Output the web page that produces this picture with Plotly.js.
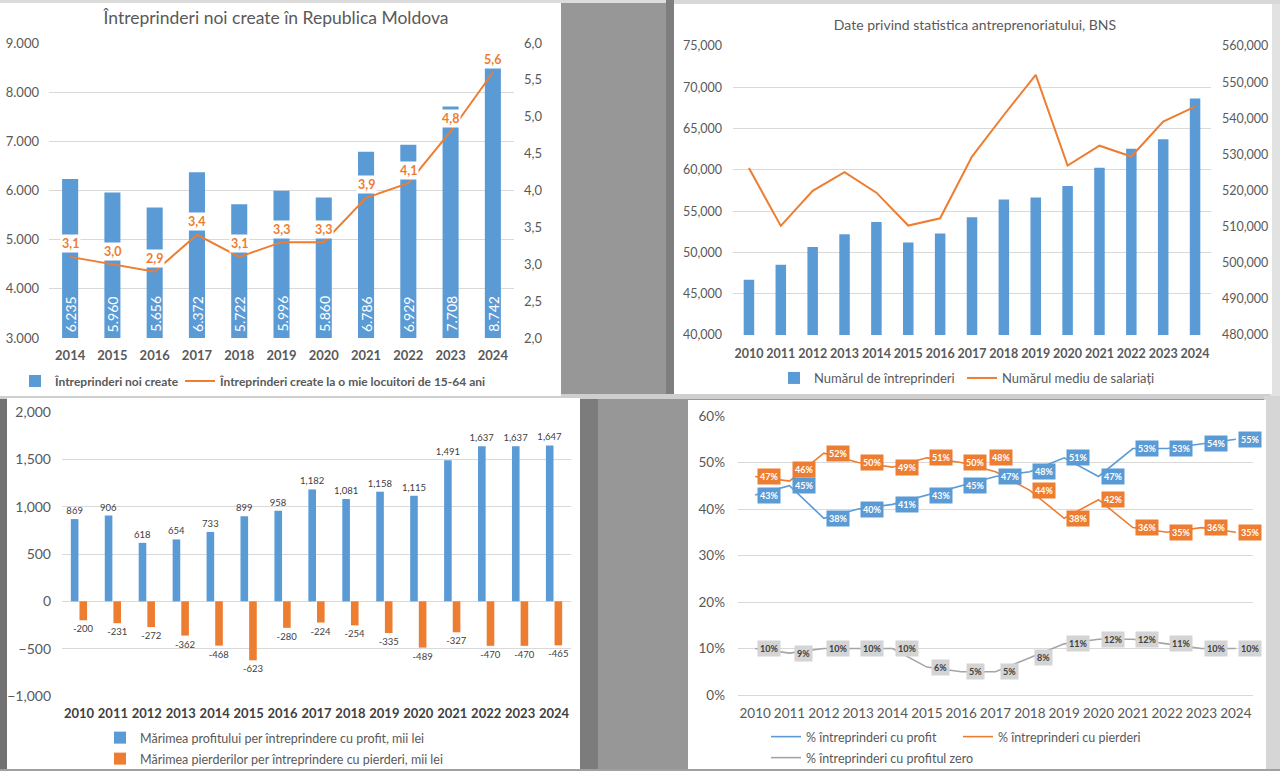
<!DOCTYPE html>
<html><head><meta charset="utf-8">
<script src="https://cdn.plot.ly/plotly-3.0.1.min.js"></script>
<style>
html,body{margin:0;padding:0;width:1280px;height:771px;overflow:hidden;background:#979797;position:relative;font-family:Lato,sans-serif;}
.panel{position:absolute;background:#fff;}
.strip{position:absolute;}
</style></head><body>
<div class="strip" style="left:666px;top:0;width:8px;height:396px;background:#7e7e7e"></div>
<div class="strip" style="left:580px;top:396px;width:18px;height:375px;background:#7c7c7c"></div>
<div class="strip" style="left:0;top:396px;width:8px;height:375px;background:#727272"></div>
<div class="strip" style="left:0;top:394px;width:1280px;height:5px;background:#cfcfcf"></div>
<div class="strip" style="left:1264px;top:396px;width:16px;height:375px;background:#d6d6d6"></div>
<div class="strip" style="left:1270px;top:0;width:10px;height:396px;background:#e2e2e2"></div>
<div id="c1" class="panel" style="left:0;top:0;width:561px;height:396px"></div>
<div id="c2" class="panel" style="left:674px;top:4px;width:598px;height:390px"></div>
<div id="c3" class="panel" style="left:7px;top:398px;width:573px;height:373px"></div>
<div id="c4" class="panel" style="left:688px;top:400px;width:578px;height:369px"></div>
<div class="strip" style="left:0;top:0;width:666px;height:3px;background:#dcdcdc"></div>
<div class="strip" style="left:674px;top:0;width:606px;height:4px;background:#d8d8d8"></div>
<div class="strip" style="left:0;top:769px;width:1280px;height:2px;background:#a0a0a0"></div>
<script>
// ---------- DATA ----------
// Chart 1: Întreprinderi noi create în Republica Moldova
const years1 = ['2014','2015','2016','2017','2018','2019','2020','2021','2022','2023','2024'];
const newFirms = [6235,5960,5656,6372,5722,5996,5860,6786,6929,7708,8742];
const firmsPerThousand = [3.1,3.0,2.9,3.4,3.1,3.3,3.3,3.9,4.1,4.8,5.6];

// Chart 2: Date privind statistica antreprenoriatului, BNS
const years2 = ['2010','2011','2012','2013','2014','2015','2016','2017','2018','2019','2020','2021','2022','2023','2024'];
const numEnterprises = [46700,48500,50650,52200,53700,51200,52300,54250,56400,56650,58050,60250,62550,63700,68650];
const avgEmployees = [526200,510200,519900,525100,519400,510300,512300,529400,540900,552000,526900,532400,529400,539100,543200];

// Chart 3: profit / loss size per enterprise, mii lei
const years3 = years2;
const profitSize = [869,906,618,654,733,899,958,1182,1081,1158,1115,1491,1637,1637,1647];
const lossSize = [-200,-231,-272,-362,-468,-623,-280,-224,-254,-335,-489,-327,-470,-470,-465];

// Chart 4: share of enterprises, %
const years4 = years2;
const pctProfit = [43,45,38,40,41,43,45,47,48,51,47,53,53,54,55];
const pctLoss = [47,46,52,50,49,51,50,48,44,38,42,36,35,36,35];
const pctZero = [10,9,10,10,10,6,5,5,8,11,12,12,11,10,10];

// ---------- STYLE ----------
const BLUE = '#5B9BD5', ORANGE = '#ED7D31', GRAY = '#A5A5A5';
const TXT = '#595959', GRID = '#d9d9d9';
const FONT = 'Lato, "Noto Sans", sans-serif';
const cfg = {displayModeBar:false, staticPlot:true};

// ---------- CHART 1 ----------
(function(){
  const W=561,H=396;
  const yMin = 3000;
  const traces = [
    {type:'bar', x:years1, y:newFirms, name:'Întreprinderi noi create', marker:{color:BLUE}, width:0.38, legend:'legend', hoverinfo:'skip'},
    {type:'scatter', mode:'lines', x:years1, y:firmsPerThousand, yaxis:'y2', name:'Întreprinderi create la o mie locuitori de 15-64 ani',
     line:{color:ORANGE, width:2}, legend:'legend2'}
  ];
  // bar value labels, written upward at the foot of each bar (x = category index)
  const barAnn = newFirms.map((v,i)=>({x:i, y:yMin, xref:'x', yref:'y', text:v.toLocaleString('de-DE'), textangle:-90,
     showarrow:false, yanchor:'bottom', yshift:4, font:{color:'#fff', size:14, family:FONT}}));
  // line value labels with white background
  const lineAnn = firmsPerThousand.map((v,i)=>({x:i, y:v, xref:'x', yref:'y2', text:v.toFixed(1).replace('.',','),
     showarrow:false, yshift:13, bgcolor:'#fff', borderpad:1, font:{color:ORANGE, size:12.5, family:FONT, weight:'bold'}}));
  const layout = {
    width:W, height:H, margin:{l:49, r:47, t:43, b:58, autoexpand:false}, separators:',.',
    paper_bgcolor:'#fff', plot_bgcolor:'#fff', font:{family:FONT, color:TXT},
    title:{text:'Întreprinderi noi create în Republica Moldova', x:276/W, xanchor:'center', y:1-18/H, yanchor:'middle', font:{size:17.5, color:TXT, family:FONT}},
    xaxis:{type:'category', range:[-0.5, years1.length-0.5], showgrid:false, zeroline:false, showline:false, ticks:'', tickangle:0, tickfont:{size:13, color:TXT, weight:'bold'}, ticklabelstandoff:8},
    yaxis:{range:[yMin,9000], dtick:1000, tickformat:',', gridcolor:GRID, zeroline:false, showline:false, tickfont:{size:13, color:TXT}, ticklabelstandoff:9},
    yaxis2:{range:[2,6], dtick:0.5, tickformat:'.1f', overlaying:'y', side:'right', showgrid:false, zeroline:false, showline:false, tickfont:{size:13, color:TXT}, ticklabelstandoff:9},
    legend:{xref:'container', yref:'container', x:15/W, y:1-381/H, xanchor:'left', yanchor:'middle', font:{size:12, color:TXT, weight:'bold'}, bgcolor:'rgba(0,0,0,0)'},
    legend2:{xref:'container', yref:'container', x:180/W, y:1-381/H, xanchor:'left', yanchor:'middle', font:{size:12, color:TXT, weight:'bold'}, bgcolor:'rgba(0,0,0,0)'},
    annotations:barAnn.concat(lineAnn), showlegend:true
  };
  Plotly.newPlot('c1', traces, layout, cfg);
})();

// ---------- CHART 2 ----------
(function(){
  const W=598,H=390;
  const traces = [
    {type:'bar', x:years2, y:numEnterprises, name:'Numărul de întreprinderi', marker:{color:BLUE}, width:0.33, legend:'legend'},
    {type:'scatter', mode:'lines', x:years2, y:avgEmployees, yaxis:'y2', name:'Numărul mediu de salariați', line:{color:ORANGE, width:2}, legend:'legend2'}
  ];
  const layout = {
    width:W, height:H, margin:{l:58.5, r:61, t:42, b:59, autoexpand:false},
    paper_bgcolor:'#fff', plot_bgcolor:'#fff', font:{family:FONT, color:TXT},
    title:{text:'Date privind statistica antreprenoriatului, BNS', x:301/W, xanchor:'center', y:1-21/H, yanchor:'middle', font:{size:14, color:TXT, family:FONT}},
    xaxis:{type:'category', showgrid:false, zeroline:false, showline:false, ticks:'', tickangle:0, tickfont:{size:12.5, color:TXT, weight:'bold'}, ticklabelstandoff:9},
    yaxis:{range:[40000,75000], dtick:5000, tickformat:',', gridcolor:GRID, zeroline:false, showline:false, tickfont:{size:12.5, color:TXT}, ticklabelstandoff:10},
    yaxis2:{range:[480000,560000], dtick:10000, tickformat:',', overlaying:'y', side:'right', showgrid:false, zeroline:false, showline:false, tickfont:{size:12.5, color:TXT}, ticklabelstandoff:10},
    legend:{xref:'container', yref:'container', x:100/W, y:1-374/H, xanchor:'left', yanchor:'middle', font:{size:13, color:TXT}, bgcolor:'rgba(0,0,0,0)'},
    legend2:{xref:'container', yref:'container', x:288/W, y:1-374/H, xanchor:'left', yanchor:'middle', font:{size:13, color:TXT}, bgcolor:'rgba(0,0,0,0)'},
    showlegend:true
  };
  Plotly.newPlot('c2', traces, layout, cfg);
})();

// ---------- CHART 3 ----------
(function(){
  const W=573,H=373;
  const traces = [
    {type:'bar', x:years3, y:profitSize, name:'Mărimea profitului per întreprindere cu profit, mii lei', marker:{color:BLUE},
     text:profitSize.map(v=>v.toLocaleString('en-US')), textposition:'outside', constraintext:'none', cliponaxis:false, textfont:{size:9.5, color:'#404040'}, legend:'legend'},
    {type:'bar', x:years3, y:lossSize, name:'Mărimea pierderilor per întreprindere cu pierderi, mii lei', marker:{color:ORANGE},
     text:lossSize.map(v=>v.toLocaleString('en-US')), textposition:'outside', constraintext:'none', cliponaxis:false, textfont:{size:9.5, color:'#404040'}, legend:'legend2'}
  ];
  const layout = {
    width:W, height:H, margin:{l:54.5, r:9, t:14, b:75, autoexpand:false}, barmode:'group', bargap:0.49, bargroupgap:0.12,
    paper_bgcolor:'#fff', plot_bgcolor:'#fff', font:{family:FONT, color:TXT},
    xaxis:{type:'category', showgrid:false, zeroline:false, showline:false, ticks:'', tickangle:0, tickfont:{size:13, color:'#404040', weight:'bold'}, ticklabelstandoff:8},
    yaxis:{range:[-1000,2000], dtick:500, tickformat:',', gridcolor:GRID, zeroline:true, zerolinecolor:GRID, zerolinewidth:1, showline:false, tickfont:{size:14, color:TXT}, ticklabelstandoff:10},
    legend:{xref:'container', yref:'container', x:93/W, y:1-340/H, xanchor:'left', yanchor:'middle', font:{size:12.5, color:TXT}, bgcolor:'rgba(0,0,0,0)'},
    legend2:{xref:'container', yref:'container', x:93/W, y:1-361/H, xanchor:'left', yanchor:'middle', font:{size:12.5, color:TXT}, bgcolor:'rgba(0,0,0,0)'},
    showlegend:true
  };
  Plotly.newPlot('c3', traces, layout, cfg);
})();

// ---------- CHART 4 ----------
(function(){
  const W=578,H=369;
  const series = [
    {name:'% întreprinderi cu profit', vals:pctProfit, color:BLUE, box:BLUE, txt:'#fff', legend:'legend'},
    {name:'% întreprinderi cu pierderi', vals:pctLoss, color:ORANGE, box:ORANGE, txt:'#fff', legend:'legend2'},
    {name:'% întreprinderi cu profitul zero', vals:pctZero, color:GRAY, box:'#d4d4d4', txt:'#404040', legend:'legend3'}
  ];
  // manual label nudges (px) for the loss series, as in the original
  const lossNudge = {'2011':[0,12], '2017':[-9,14]};
  const traces = series.map(s=>({type:'scatter', mode:'lines', x:years4, y:s.vals.map(v=>v/100), name:s.name,
     line:{color:s.color, width:1.6}, legend:s.legend}));
  const ann = [];
  series.forEach((s,si)=>{
    s.vals.forEach((v,i)=>{
      const n = (si===1 && lossNudge[years4[i]]) ? lossNudge[years4[i]] : [0,0];
      ann.push({x:i, y:v/100, xref:'x', yref:'y', text:v+'%', showarrow:false, xshift:14+n[0], yshift:n[1],
        bgcolor:s.box, borderpad:2, font:{size:9, color:s.txt, family:FONT, weight:'bold'}});
    });
  });
  const layout = {
    width:W, height:H, margin:{l:50, r:13, t:16, b:74, autoexpand:false},
    paper_bgcolor:'#fff', plot_bgcolor:'#fff', font:{family:FONT, color:TXT},
    xaxis:{type:'category', range:[-0.5, years4.length-0.5], showgrid:false, zeroline:false, showline:false, ticks:'', tickangle:0, tickfont:{size:13.5, color:TXT}, ticklabelstandoff:8},
    yaxis:{range:[0,0.6], dtick:0.1, tickformat:'.0%', gridcolor:GRID, zeroline:true, zerolinecolor:GRID, showline:false, tickfont:{size:13.5, color:TXT}, ticklabelstandoff:12},
    legend:{xref:'container', yref:'container', x:78/W, y:1-337/H, xanchor:'left', yanchor:'middle', font:{size:12.5, color:TXT}, bgcolor:'rgba(0,0,0,0)'},
    legend2:{xref:'container', yref:'container', x:270/W, y:1-337/H, xanchor:'left', yanchor:'middle', font:{size:12.5, color:TXT}, bgcolor:'rgba(0,0,0,0)'},
    legend3:{xref:'container', yref:'container', x:78/W, y:1-358/H, xanchor:'left', yanchor:'middle', font:{size:12.5, color:TXT}, bgcolor:'rgba(0,0,0,0)'},
    annotations:ann, showlegend:true
  };
  Plotly.newPlot('c4', traces, layout, cfg);
})();
</script>
</body></html>
